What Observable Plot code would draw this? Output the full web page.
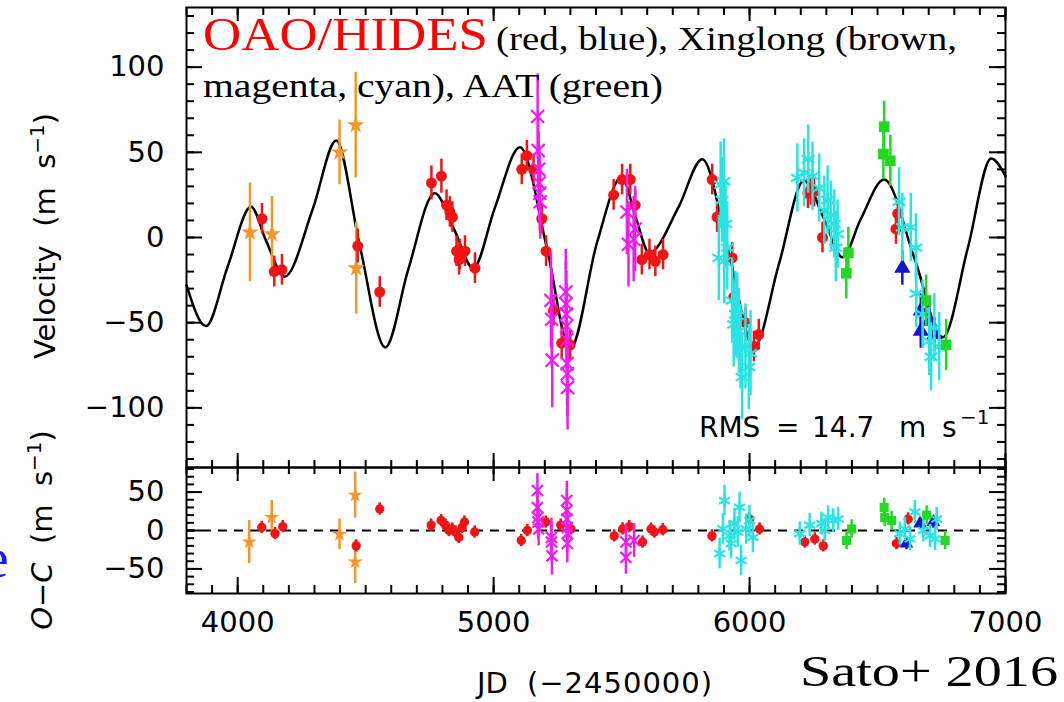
<!DOCTYPE html>
<html><head><meta charset="utf-8">
<script src="https://cdn.jsdelivr.net/npm/d3@7"></script>
<script src="https://cdn.jsdelivr.net/npm/@observablehq/plot@0.6"></script>
<style>
body{margin:0;background:#fff;}
#wrap{position:relative;width:1064px;height:702px;overflow:hidden;background:#fff;}
#wrap svg{display:block;}
#overlay{position:absolute;left:0;top:0;pointer-events:none;}
</style></head><body>
<div id="wrap"></div>
<script>
// ---------- data: [JD-2450000, value, error] ----------
const jdTicks = [4000, 5000, 6000, 7000];
const rvTicks = [-100, -50, 0, 50, 100];
const ocTicks = [-50, 0, 50];

// Keplerian model curve, read at extrema and half-way points
const modelCurve = [[3800,-28],[3876,-52],[3961,-17],[4052,18],[4111,-2],[4183,-23],[4294,17],[4385,57],[4476,-4],[4577,-64.5],[4666,-19],[4770,26],[4848,4],[4920,-18],[5005,17.5],[5103,53],[5208,-6],[5299,-65.5],[5404,-3],[5501,35.5],[5555,12],[5608,-9],[5723,18],[5815,46],[5919,-9],[6017,-64.5],[6115,-15.5],[6213,33.5],[6291,11],[6363,-11.6],[6435,11],[6526,34],[6644,-12],[6755,-58.6],[6853,-6],[6944,46.3],[7000,36]];

// OAO/HIDES (red)
const oaoRedRV = [[4095,11,9],[4143,-20,9],[4173,-19,9],[4469,-5,10],[4555,-32,9],[4757,32,10],[4796,36,10],[4816,19,9],[4829,15,9],[4839,12,9],[4855,-8,9],[4865,-13,9],[4868,-10,9],[4888,-8,9],[4927,-18,9],[5110,40,9],[5130,48,9],[5156,40,9],[5188,11,9],[5205,-8,9],[5234,-43,9],[5266,-62,9],[5299,-63,9],[5469,25,9],[5502,34,9],[5534,34,9],[5553,19,9],[5579,-13,9],[5609,-10,9],[5632,-14,9],[5662,-10,9],[5854,34,9],[5873,12,9],[5932,-12,9],[5938,-35,9],[5984,-50,9],[6017,-64,9],[6036,-57,9],[6228,26,9],[6239,28,9],[6252,27,9],[6285,0,9],[6572,5,9],[6579,14,9]];
// OAO/HIDES (blue)
const oaoBlueRV = [[6597,-18,10],[6669,-43,10],[6669,-55,10],[6702,-49,10],[6722,-57,10]];
// Xinglong (brown)
const xlBrownRV = [[4048,3,29],[4134,2,22],[4398,50,19],[4461,66,31],[4463,-18,27]];
// Xinglong (magenta)
const xlMagentaRV = [[5172,71,25],[5174,51,22],[5176,40,22],[5178,32,22],[5180,26,22],[5182,21,22],[5224,-37,28],[5227,-48,28],[5229,-72,28],[5282,-32,25],[5283,-39,25],[5284,-45,25],[5285,-52,25],[5286,-60,25],[5287,-74,25],[5288,-80,25],[5289,-88,25],[5521,15,25],[5527,-4,25],[5547,-1,25],[5553,5,25]];
// Xinglong (cyan)
const xlCyanRV = [[5880,-12,25],[5887,31,25],[5893,22,25],[5900,33,25],[5901,-14,25],[5906,8,25],[5913,-6,25],[5932,-37,25],[5938,-51,25],[5945,-45,25],[5952,-46,25],[5958,-55,25],[5965,-64,25],[5971,-82,25],[5984,-64,25],[5997,-76,25],[6004,-68,25],[6187,35,20],[6213,38,20],[6229,46,20],[6246,36,20],[6272,29,20],[6292,16,20],[6305,22,20],[6318,13,20],[6331,8,20],[6344,2,20],[6337,-6,20],[6584,21,20],[6597,6,20],[6630,6,20],[6650,-6,20],[6651,-33,20],[6676,-45,20],[6702,-61,20],[6709,-70,20],[6722,-53,20],[6741,-64,20]];
// AAT (green)
const aatGreenRV = [[6378,-21,15],[6386,-9,15],[6523,49,15],[6526,65,15],[6550,45,15],[6690,-37,15],[6768,-63,15]];

// residuals O-C
const oaoRedOC = [[4094,4,8],[4146,-4,8],[4176,5,8],[4463,-20,8],[4555,28,8],[4756,7,8],[4795,13,8],[4812,7,8],[4825,0,8],[4838,2,8],[4851,-2,8],[4864,-9,8],[4877,4,8],[4886,11,8],[4926,-2,8],[5108,-13,8],[5132,0,8],[5204,11,8],[5262,7,8],[5302,2,8],[5471,-7,8],[5504,2,8],[5530,5,8],[5582,-15,8],[5615,2,8],[5628,-2,8],[5661,1,8],[5853,-7,8],[6000,15,8],[6039,2,8],[6216,-15,8],[6255,-11,8],[6288,-20,8],[6574,-17,8],[6620,15,8]];
const oaoBlueOC = [[6613,-17,8],[6666,9,8],[6718,11,8]];
const xlBrownOC = [[4045,-15,28],[4133,17,22],[4398,-5,20],[4459,46,30],[4459,-41,28]];
const xlMagentaOC = [[5171,52,22],[5171,30,22],[5173,17,22],[5174,11,22],[5176,2,22],[5226,-9,25],[5226,-15,25],[5228,-33,25],[5286,39,25],[5286,26,25],[5286,15,25],[5288,4,25],[5288,-4,25],[5288,-17,25],[5517,-35,22],[5517,-15,22],[5549,-13,22]];
const xlCyanOC = [[5883,-30,20],[5896,2,20],[5902,39,20],[5922,-7,20],[5928,-17,20],[5941,9,20],[5954,-2,20],[5961,30,20],[5967,-39,20],[5987,2,20],[6000,13,20],[6013,-9,20],[6196,-4,15],[6235,7,15],[6281,9,15],[6294,0,15],[6307,17,15],[6327,13,15],[6346,15,15],[6587,-4,15],[6607,2,15],[6627,-11,15],[6646,24,15],[6679,0,15],[6705,-7,15],[6731,15,15],[6725,-11,15]];
const aatGreenOC = [[6379,-13,12],[6399,2,12],[6526,30,12],[6528,17,12],[6555,13,12],[6692,20,12],[6764,-13,12]];

// ---------- styles ----------
const C = {red:"#f01414", blue:"#1414c8", brown:"#f5962a", magenta:"#f01cf0", cyan:"#2ae4e4", green:"#22d822"};
const W = 1064, FL = 186, FR = 1005, FT = 7, FM = 467, FB = 593;
const xDomain = [3800, 7000];

function series(rows, symbol, color, r, filled) {
  return [
    Plot.ruleX(rows, {x: d => d[0], y1: d => d[1] - d[2], y2: d => d[1] + d[2], stroke: color, strokeWidth: 2.5}),
    Plot.dot(rows, {x: d => d[0], y: d => d[1], symbol, r,
      fill: filled ? color : "none", stroke: filled ? "none" : color, strokeWidth: filled ? 0 : 2.2})
  ];
}
function allSeries(red, blue, brown, magenta, cyan, green, k) {
  return [
    ...series(brown, "star", C.brown, 5.5*k, true),
    ...series(red, "circle", C.red, 5.5*k, true),
    ...series(magenta, "times", C.magenta, 6*k, false),
    ...series(blue, "triangle", C.blue, 6*k, true),
    ...series(cyan, "asterisk", C.cyan, 7*k, false),
    ...series(green, "square", C.green, 6*k, true)
  ];
}
const minusFmt = d => d < 0 ? "\u2212" + (-d) : String(d);
function frameTicks(H, Wf, xMinorV, xMajorV, yMinorV, yMajorV, len) {
  const tk = {stroke: "black", strokeWidth: 2};
  return [
    Plot.ruleX(xMinorV, {...tk, insetBottom: H - len.xTopMinor}),
    Plot.ruleX(xMajorV, {...tk, insetBottom: H - len.xTopMajor}),
    Plot.ruleX(xMinorV, {...tk, insetTop: H - len.xBotMinor}),
    Plot.ruleX(xMajorV, {...tk, insetTop: H - len.xBotMajor}),
    Plot.ruleY(yMinorV, {...tk, insetRight: Wf - 8}),
    Plot.ruleY(yMajorV, {...tk, insetRight: Wf - 16}),
    Plot.ruleY(yMinorV, {...tk, insetLeft: Wf - 8}),
    Plot.ruleY(yMajorV, {...tk, insetLeft: Wf - 16})
  ];
}
const xMinor = d3.range(3800, 7001, 100);
const baseStyle = {fontFamily: "'DejaVu Sans', sans-serif", fontSize: "29px", color: "black", background: "transparent", overflow: "visible"};

const topPlot = Plot.plot({
  width: W, height: FM,
  marginLeft: FL, marginRight: W - FR, marginTop: FT, marginBottom: 0,
  style: baseStyle,
  x: {domain: xDomain, axis: null},
  y: {domain: [-135, 135]},
  marks: [
    Plot.axisY({ticks: rvTicks, tickSize: 0, tickPadding: 22, tickFormat: minusFmt, label: null}),
    Plot.line(modelCurve, {x: d => d[0], y: d => d[1], curve: "monotone-x", stroke: "black", strokeWidth: 2.5}),
    ...allSeries(oaoRedRV, oaoBlueRV, xlBrownRV, xlMagentaRV, xlCyanRV, aatGreenRV, 1),
    ...frameTicks(FM - FT, FR - FL, xMinor, jdTicks, d3.range(-130, 131, 10), rvTicks,
      {xTopMinor: 8, xTopMajor: 14, xBotMinor: 7, xBotMajor: 14}),
    Plot.frame({stroke: "black", strokeWidth: 2})
  ]
});

const bottomPlot = Plot.plot({
  width: W, height: 702 - FM,
  marginLeft: FL, marginRight: W - FR, marginTop: 0, marginBottom: 702 - FB,
  style: baseStyle,
  x: {domain: xDomain},
  y: {domain: [-82, 82]},
  marks: [
    Plot.axisY({ticks: ocTicks, tickSize: 0, tickPadding: 22, tickFormat: minusFmt, label: null}),
    Plot.axisX({ticks: jdTicks, tickSize: 0, tickPadding: 18, tickFormat: d => String(d), label: null}),
    Plot.ruleY([0], {stroke: "black", strokeWidth: 2, strokeDasharray: "9,7"}),
    ...allSeries(oaoRedOC, oaoBlueOC, xlBrownOC, xlMagentaOC, xlCyanOC, aatGreenOC, 0.85),
    ...frameTicks(FB - FM, FR - FL, xMinor, jdTicks, d3.range(-80, 81, 10), ocTicks,
      {xTopMinor: 7, xTopMajor: 14, xBotMinor: 8, xBotMajor: 16}),
    Plot.frame({stroke: "black", strokeWidth: 2})
  ]
});

const wrap = document.getElementById("wrap");
wrap.appendChild(topPlot);
wrap.appendChild(bottomPlot);

// ---------- annotation text ----------
const ns = "http://www.w3.org/2000/svg";
const ov = document.createElementNS(ns, "svg");
ov.setAttribute("id", "overlay");
ov.setAttribute("width", W); ov.setAttribute("height", 702);
ov.innerHTML = `
<g font-family="'DejaVu Sans', sans-serif" fill="black">
  <text transform="translate(55,236) rotate(-90)" text-anchor="middle" font-size="29">Velocity&#160;&#160;(m&#160;&#160;s<tspan dy="-11" font-size="20">\u22121</tspan><tspan dy="11">)</tspan></text>
  <text transform="translate(52,530) rotate(-90)" text-anchor="middle" font-size="29"><tspan font-style="italic">O\u2212C</tspan>&#160;&#160;(m&#160;&#160;s<tspan dy="-11" font-size="20">\u22121</tspan><tspan dy="11">)</tspan></text>
  <text y="693" font-size="29"><tspan x="477">JD</tspan><tspan x="527" letter-spacing="1">(\u22122450000)</tspan></text>
  <text y="437" font-size="28"><tspan x="699">RMS</tspan><tspan x="776">=</tspan><tspan x="812">14.7</tspan><tspan x="899">m</tspan><tspan x="942">s</tspan><tspan x="960" dy="-13" font-size="20">\u22121</tspan></text>
</g>
<g font-family="'Liberation Serif', serif">
  <text x="203" y="50" font-size="47" fill="#ff0000" textLength="285" lengthAdjust="spacingAndGlyphs">OAO/HIDES</text>
  <text x="496" y="50" font-size="34" fill="black" textLength="461" lengthAdjust="spacingAndGlyphs">(red, blue), Xinglong (brown,</text>
  <text x="203" y="97" font-size="34" fill="black" textLength="460" lengthAdjust="spacingAndGlyphs">magenta, cyan), AAT (green)</text>
  <text x="800" y="686" font-size="44" fill="black" textLength="258" lengthAdjust="spacingAndGlyphs">Sato+ 2016</text>
  <text x="-17" y="577" font-size="58" fill="#1a1aff">e</text>
</g>`;
wrap.appendChild(ov);
</script>
</body></html>
